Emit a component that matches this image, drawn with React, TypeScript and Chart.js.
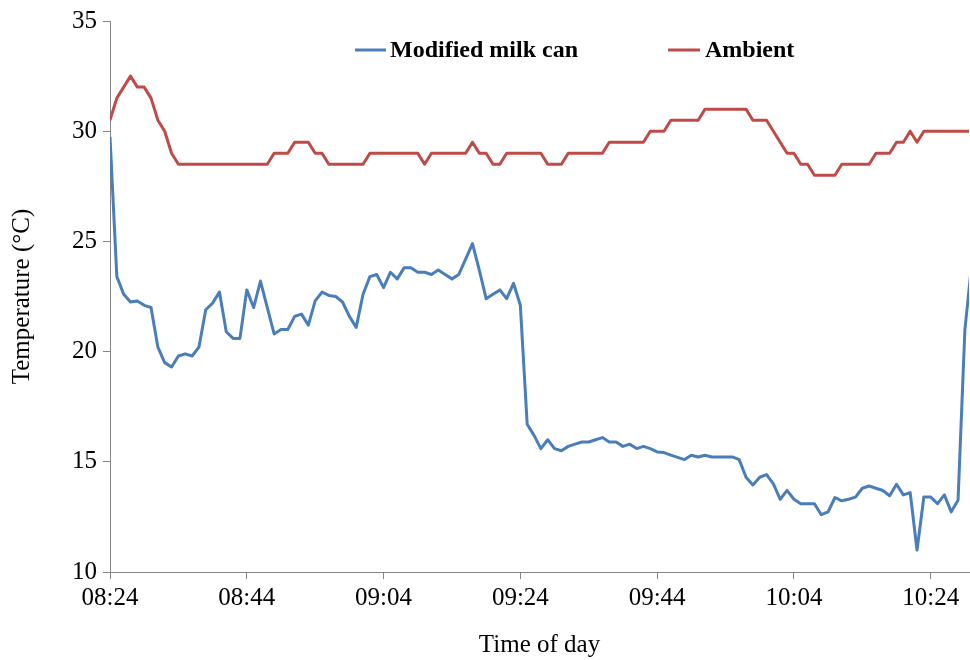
import React, { useEffect, useRef } from "react";
import { Chart, registerables } from "chart.js";

Chart.register(...registerables);

// Minutes elapsed since 08:24, one reading per minute.
const SERIES_NAMES = ["Modified milk can", "Ambient"];

const milkCanTemp = [
  29.75, 23.4, 22.6, 22.25, 22.3, 22.1, 22.0, 20.2, 19.5, 19.3,
  19.8, 19.9, 19.8, 20.2, 21.9, 22.2, 22.7, 20.9, 20.6, 20.6,
  22.8, 22.0, 23.2, 22.0, 20.8, 21.0, 21.0, 21.6, 21.7, 21.2,
  22.3, 22.7, 22.55, 22.5, 22.25, 21.6, 21.1, 22.6, 23.4, 23.5,
  22.9, 23.6, 23.3, 23.8, 23.8, 23.6, 23.6, 23.5, 23.7, 23.5,
  23.3, 23.5, 24.2, 24.9, 23.7, 22.4, 22.6, 22.8, 22.4, 23.1,
  22.1, 16.7, 16.2, 15.6, 16.0, 15.6, 15.5, 15.7, 15.8, 15.9,
  15.9, 16.0, 16.1, 15.9, 15.9, 15.7, 15.8, 15.6, 15.7, 15.6,
  15.45, 15.42, 15.3, 15.2, 15.1, 15.3, 15.22, 15.3, 15.22, 15.22,
  15.22, 15.22, 15.1, 14.3, 13.95, 14.3, 14.42, 14.0, 13.3, 13.7,
  13.3, 13.1, 13.1, 13.1, 12.6, 12.73, 13.38, 13.23, 13.3, 13.4,
  13.8, 13.9, 13.8, 13.7, 13.46, 13.98, 13.5, 13.6, 11.0, 13.4,
  13.4, 13.1, 13.5, 12.73, 13.26, 21.0, 24.0,
];

const ambientTemp = [
  30.5, 31.5, 32, 32.5, 32, 32, 31.5, 30.5, 30, 29,
  28.5, 28.5, 28.5, 28.5, 28.5, 28.5, 28.5, 28.5, 28.5, 28.5,
  28.5, 28.5, 28.5, 28.5, 29, 29, 29, 29.5, 29.5, 29.5,
  29, 29, 28.5, 28.5, 28.5, 28.5, 28.5, 28.5, 29, 29,
  29, 29, 29, 29, 29, 29, 28.5, 29, 29, 29,
  29, 29, 29, 29.5, 29, 29, 28.5, 28.5, 29, 29,
  29, 29, 29, 29, 28.5, 28.5, 28.5, 29, 29, 29,
  29, 29, 29, 29.5, 29.5, 29.5, 29.5, 29.5, 29.5, 30,
  30, 30, 30.5, 30.5, 30.5, 30.5, 30.5, 31, 31, 31,
  31, 31, 31, 31, 30.5, 30.5, 30.5, 30, 29.5, 29,
  29, 28.5, 28.5, 28, 28, 28, 28, 28.5, 28.5, 28.5,
  28.5, 28.5, 29, 29, 29, 29.5, 29.5, 30, 29.5, 30,
  30, 30, 30, 30, 30, 30, 30,
];

const xTickMinutes = [0, 20, 40, 60, 80, 100, 120];
const xTickLabels = ["08:24", "08:44", "09:04", "09:24", "09:44", "10:04", "10:24"];
const yTickValues = [10, 15, 20, 25, 30, 35];

const BLUE = "#4A7EBB";
const RED = "#BE4B48";
const AXIS_GREY = "#868686";
const FONT = "'Liberation Serif', 'Times New Roman', serif";

const toPoints = (values: number[]) => values.map((y, i) => ({ x: i, y }));

// Legend drawn inside the plot, above the ambient line.
const inlineLegend = {
  id: "inlineLegend",
  afterDraw(chart: Chart) {
    const ctx = chart.ctx;
    const entries = [
      { x1: 355, x2: 386, textX: 390 },
      { x1: 668, x2: 700, textX: 705 },
    ];
    const y = 50;
    ctx.save();
    chart.data.datasets.forEach((ds: any, i: number) => {
      const e = entries[i];
      ctx.strokeStyle = ds.borderColor;
      ctx.lineWidth = 3;
      ctx.lineCap = "butt";
      ctx.beginPath();
      ctx.moveTo(e.x1, y);
      ctx.lineTo(e.x2, y);
      ctx.stroke();
      ctx.fillStyle = "#000";
      ctx.font = `bold 24px ${FONT}`;
      ctx.textAlign = "left";
      ctx.textBaseline = "middle";
      ctx.fillText(ds.label, e.textX, y + 1);
    });
    ctx.restore();
  },
};

export default function App() {
  const canvasRef = useRef<HTMLCanvasElement | null>(null);

  useEffect(() => {
    if (!canvasRef.current) return;
    const chart = new Chart(canvasRef.current, {
      type: "line",
      data: {
        datasets: [
          {
            label: SERIES_NAMES[0],
            data: toPoints(milkCanTemp),
            borderColor: BLUE,
            backgroundColor: BLUE,
            borderWidth: 3,
            pointRadius: 0,
            tension: 0,
            borderJoinStyle: "round",
          },
          {
            label: SERIES_NAMES[1],
            data: toPoints(ambientTemp),
            borderColor: RED,
            backgroundColor: RED,
            borderWidth: 3,
            pointRadius: 0,
            tension: 0,
            borderJoinStyle: "round",
          },
        ],
      },
      options: {
        animation: false,
        responsive: false,
        layout: { padding: { top: 20, right: 1, left: 0, bottom: 0 } },
        plugins: {
          legend: { display: false },
          tooltip: { enabled: false },
        },
        scales: {
          x: {
            type: "linear",
            min: 0,
            max: 125.6,
            afterBuildTicks: (scale: any) => {
              scale.ticks = xTickMinutes.map((v) => ({ value: v }));
            },
            afterFit: (scale: any) => {
              scale.height = 88;
            },
            grid: {
              drawOnChartArea: false,
              drawTicks: true,
              tickLength: 7,
              color: AXIS_GREY,
            },
            border: { display: true, color: AXIS_GREY, width: 1 },
            ticks: {
              autoSkip: false,
              maxRotation: 0,
              padding: 4,
              color: "#000",
              font: { family: FONT, size: 25 },
              callback: (value: any) => {
                const idx = xTickMinutes.indexOf(Number(value));
                return idx >= 0 ? xTickLabels[idx] : "";
              },
            },
            title: {
              display: true,
              text: "Time of day",
              color: "#000",
              font: { family: FONT, size: 25 },
              padding: { top: 0, bottom: 0 },
            },
          },
          y: {
            type: "linear",
            min: 10,
            max: 35,
            afterBuildTicks: (scale: any) => {
              scale.ticks = yTickValues.map((v) => ({ value: v }));
            },
            afterFit: (scale: any) => {
              scale.width = 110;
            },
            grid: {
              drawOnChartArea: false,
              drawTicks: true,
              tickLength: 7,
              color: AXIS_GREY,
            },
            border: { display: true, color: AXIS_GREY, width: 1 },
            ticks: {
              padding: 6,
              color: "#000",
              font: { family: FONT, size: 25 },
            },
            title: {
              display: true,
              text: "Temperature (°C)",
              color: "#000",
              font: { family: FONT, size: 25 },
              padding: { top: 7, bottom: 0 },
            },
          },
        },
      },
      plugins: [inlineLegend],
    });
    return () => chart.destroy();
  }, []);

  return (
    <div
      style={{
        position: "fixed",
        left: 0,
        top: 0,
        width: 970,
        height: 660,
        background: "#fff",
      }}
    >
      <canvas ref={canvasRef} width={970} height={660} />
    </div>
  );
}
